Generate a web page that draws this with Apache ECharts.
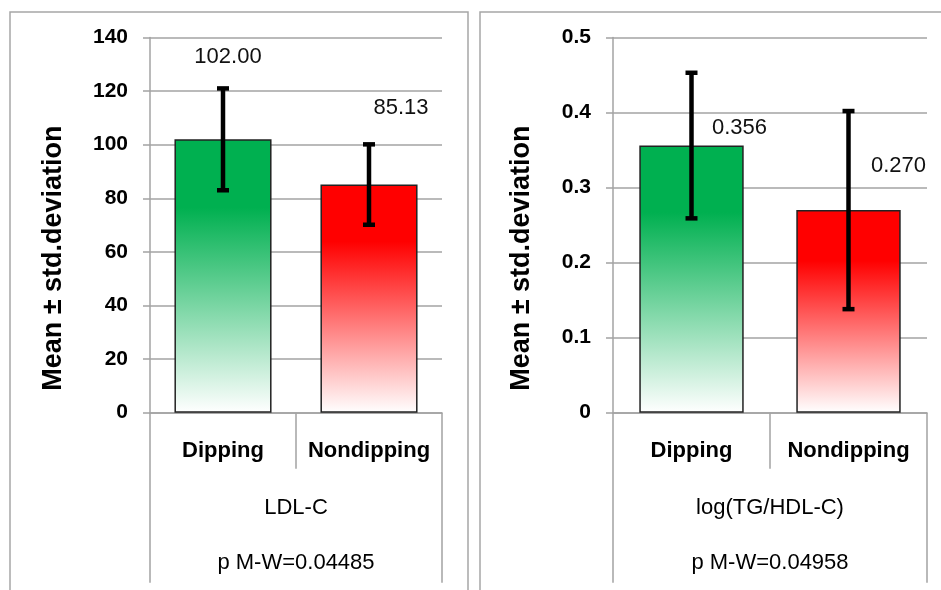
<!DOCTYPE html>
<html>
<head>
<meta charset="utf-8">
<script src="https://cdn.jsdelivr.net/npm/echarts@6/dist/echarts.min.js"></script>
<style>
  html, body { margin: 0; padding: 0; background: #fff; }
  #chart { width: 941px; height: 590px; }
</style>
</head>
<body>
<div id="chart"></div>
<script>
// values
const categories = ['Dipping', 'Nondipping'];

const ldlMean = [102.00, 85.13];
const ldlSd = [19.0, 15.0];

const tgMean = [0.356, 0.270];
const tgSd = [0.097, 0.132];

const panelTitles = ['LDL-C', 'log(TG/HDL-C)'];
const pValues = ['p M-W=0.04485', 'p M-W=0.04958'];

const FONT = '"Liberation Sans", Arial, sans-serif';
const GRID_COLOR = '#a3a3a3';

// label placement (Excel put them in odd spots)
const labelOffsets = [
    [[5, -82], [32, -77]],
    [[48, -18], [50, -44]]
];

const barColors = [
    ['#00b050', '#ffffff'],
    ['#ff0000', '#ffffff']
];

function gradient(c) {
    return new echarts.graphic.LinearGradient(0, 0, 0, 1, [
        { offset: 0, color: c[0] },
        { offset: 0.25, color: c[0] },
        { offset: 1, color: c[1] }
    ]);
}

function renderErr(params, api) {
    const x = api.value(0);
    const lo = api.coord([x, api.value(1)]);
    const hi = api.coord([x, api.value(2)]);
    const w = 6;
    const st = { stroke: '#000', lineWidth: 4.5 };
    return {
        type: 'group',
        children: [
            { type: 'line', shape: { x1: lo[0], y1: hi[1], x2: lo[0], y2: lo[1] }, style: st },
            { type: 'line', shape: { x1: lo[0] - w, y1: hi[1], x2: lo[0] + w, y2: hi[1] }, style: st },
            { type: 'line', shape: { x1: lo[0] - w, y1: lo[1], x2: lo[0] + w, y2: lo[1] }, style: st }
        ]
    };
}

const grids = [
    { left: 150, right: 499, top: 37.5, bottom: 177.3 },
    { left: 613, right: 14, top: 37.5, bottom: 177.3 }
];

const yCfg = [
    { max: 140, interval: 20, nameGap: 83, digits: 2 },
    { max: 0.5, interval: 0.1, nameGap: 78, digits: 3 }
];

const means = [ldlMean, tgMean];
const sds = [ldlSd, tgSd];

const xAxis = [];
const yAxis = [];
const series = [];

for (let g = 0; g < 2; g++) {
    // group labels
    xAxis.push({
        type: 'category', gridIndex: g, data: categories,
        axisLine: { show: true, lineStyle: { color: GRID_COLOR, width: 1.5 } },
        axisTick: { show: true, interval: 0, length: 56, lineStyle: { color: GRID_COLOR, width: 1.5 } },
        axisLabel: { interval: 0, margin: 27, color: '#000', fontFamily: FONT, fontSize: 22, fontWeight: 'bold' }
    });
    // variable name
    xAxis.push({
        type: 'category', gridIndex: g, data: [panelTitles[g]], position: 'bottom',
        axisLine: { show: false },
        axisTick: { show: true, interval: 0, length: 170, lineStyle: { color: GRID_COLOR, width: 1.5 } },
        axisLabel: { interval: 0, margin: 84, color: '#000', fontFamily: FONT, fontSize: 22 }
    });
    // p value
    xAxis.push({
        type: 'category', gridIndex: g, data: [pValues[g]], position: 'bottom',
        axisLine: { show: false }, axisTick: { show: false },
        axisLabel: { interval: 0, margin: 139, color: '#000', fontFamily: FONT, fontSize: 22 }
    });

    yAxis.push({
        type: 'value', gridIndex: g, min: 0, max: yCfg[g].max, interval: yCfg[g].interval,
        name: 'Mean ± std.deviation', nameLocation: 'middle', nameGap: yCfg[g].nameGap,
        nameTextStyle: { color: '#000', fontFamily: FONT, fontSize: 27, fontWeight: 'bold', padding: [0, 66, 0, 0] },
        axisLine: { show: true, lineStyle: { color: GRID_COLOR, width: 1.5 } },
        axisTick: { show: true, length: 7, lineStyle: { color: GRID_COLOR, width: 1.5 } },
        axisLabel: { margin: 22, color: '#000', fontFamily: FONT, fontSize: 21, fontWeight: 'bold' },
        splitLine: { lineStyle: { color: GRID_COLOR, width: 1.5 } }
    });

    const digits = yCfg[g].digits;
    series.push({
        type: 'bar', xAxisIndex: g * 3, yAxisIndex: g, barWidth: '66.5%',
        data: means[g].map((v, i) => ({
            value: v,
            itemStyle: { color: gradient(barColors[i]) },
            label: { offset: labelOffsets[g][i] }
        })),
        itemStyle: { borderColor: '#222', borderWidth: 1.5 },
        label: {
            show: true, position: 'top', distance: 0, verticalAlign: 'middle',
            formatter: p => p.value.toFixed(digits),
            color: '#111', fontFamily: FONT, fontSize: 22
        },
        z: 2
    });

    series.push({
        type: 'custom', xAxisIndex: g * 3, yAxisIndex: g,
        data: means[g].map((v, i) => [i, v - sds[g][i], v + sds[g][i]]),
        renderItem: renderErr,
        z: 3
    });
}

const chart = echarts.init(document.getElementById('chart'));
chart.setOption({
    animation: false,
    backgroundColor: '#fff',
    graphic: [
        { type: 'rect', shape: { x: 10, y: 12, width: 458, height: 620 },
          style: { fill: 'none', stroke: '#a6a6a6', lineWidth: 1.5 }, silent: true },
        { type: 'rect', shape: { x: 480, y: 12, width: 500, height: 620 },
          style: { fill: 'none', stroke: '#a6a6a6', lineWidth: 1.5 }, silent: true }
    ],
    grid: grids,
    xAxis: xAxis,
    yAxis: yAxis,
    series: series
});
</script>
</body>
</html>
